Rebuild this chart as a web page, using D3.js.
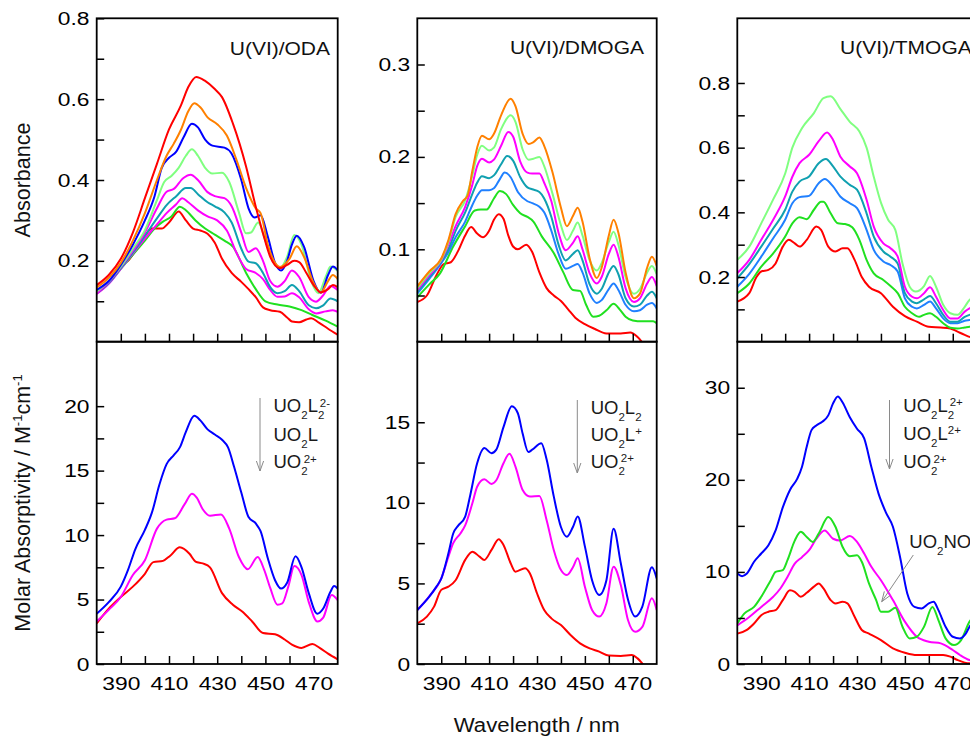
<!DOCTYPE html>
<html><head><meta charset="utf-8">
<script src="https://cdn.jsdelivr.net/npm/d3@7"></script>
<style>
body{margin:0;background:#fff;}
svg{display:block;}
text{font-family:"Liberation Sans",Arial,Helvetica,sans-serif;}
</style>
</head><body>
<svg id="chart" width="970" height="736"></svg>
<script>
// ---------- DATA (wavelength nm, value) ----------
const xTickValues = [390,400,410,420,430,440,450,460,470];
const xTickLabels = [390,410,430,450,470];

// U(VI)/ODA absorbance
const odaAbsRed1 = [[380,0.14],[385,0.165],[390,0.205],[395,0.27],[400,0.355],[405,0.44],[410,0.525],[415,0.585],[418,0.63],[421.3,0.655],[425,0.645],[429,0.625],[432,0.605],[436.5,0.54],[442,0.433],[446,0.334],[449,0.268],[452,0.21],[456,0.182],[459,0.19],[462,0.2],[464,0.197],[467,0.17],[470,0.14],[473,0.122],[476,0.13],[478,0.14],[480,0.135]];
const odaAbsOrange = [[380,0.134],[385,0.158],[390,0.195],[395,0.25],[400,0.318],[405,0.4],[409,0.46],[412,0.49],[415,0.525],[418,0.57],[420.5,0.59],[423,0.58],[426,0.555],[430,0.538],[434,0.51],[438,0.45],[442,0.38],[446,0.33],[448,0.318],[451,0.24],[454,0.195],[456,0.185],[460,0.205],[463,0.236],[466,0.21],[470,0.145],[473,0.122],[476,0.15],[478,0.165],[480,0.155]];
const odaAbsBlue = [[380,0.128],[385,0.15],[390,0.19],[395,0.24],[400,0.3],[404,0.36],[407,0.43],[410,0.455],[413,0.47],[416,0.505],[419.5,0.539],[422,0.53],[425,0.5],[428,0.485],[433,0.48],[436,0.465],[440,0.4],[443,0.33],[445.5,0.307],[448,0.313],[451,0.26],[454,0.195],[456.5,0.176],[459,0.2],[461,0.24],[463,0.262],[466,0.235],[470,0.15],[473,0.121],[476,0.165],[478,0.186],[480,0.177]];
const odaAbsLightGreen = [[380,0.124],[385,0.15],[390,0.186],[395,0.23],[400,0.276],[405,0.35],[408,0.395],[411,0.41],[414,0.43],[417,0.46],[419.5,0.476],[422,0.46],[425,0.43],[428,0.416],[432,0.418],[435,0.395],[439,0.32],[442,0.268],[444,0.27],[447,0.295],[450,0.25],[453,0.2],[456,0.182],[459,0.21],[462,0.264],[465,0.24],[469,0.15],[472,0.12],[475,0.16],[477,0.186],[480,0.175]];
const odaAbsMagenta1 = [[380,0.12],[385,0.148],[390,0.185],[395,0.225],[400,0.27],[405,0.33],[409,0.371],[412,0.378],[416,0.405],[419,0.413],[422,0.4],[426,0.37],[429,0.36],[433,0.355],[436,0.335],[440,0.27],[443,0.222],[446,0.231],[449,0.2],[452,0.15],[455,0.136],[458,0.15],[461,0.176],[464,0.16],[468,0.11],[471,0.099],[474,0.115],[477,0.138],[480,0.128]];
const odaAbsTeal = [[380,0.12],[385,0.145],[390,0.182],[395,0.22],[400,0.262],[405,0.305],[409,0.338],[413,0.36],[417,0.38],[419,0.38],[422,0.365],[426,0.345],[429,0.335],[433,0.32],[436,0.295],[440,0.23],[443,0.198],[446,0.194],[449,0.17],[452,0.135],[455,0.12],[458,0.125],[461,0.14],[464,0.125],[468,0.09],[471,0.083],[474,0.09],[477,0.107],[480,0.1]];
const odaAbsMagenta2 = [[380,0.118],[385,0.143],[390,0.18],[395,0.218],[400,0.255],[405,0.29],[409,0.318],[413,0.34],[415.5,0.355],[418,0.345],[422,0.325],[426,0.31],[430,0.3],[434,0.275],[438,0.22],[442,0.18],[446,0.17],[449,0.155],[452,0.128],[455,0.111],[458,0.112],[461,0.12],[464,0.11],[468,0.08],[471,0.07],[475,0.075],[478,0.078],[480,0.074]];
const odaAbsGreen = [[380,0.122],[385,0.145],[390,0.18],[395,0.215],[400,0.25],[404,0.28],[407.5,0.297],[411,0.31],[414.5,0.334],[417,0.325],[421,0.3],[425,0.28],[429,0.265],[433,0.25],[436.5,0.235],[442,0.17],[446,0.13],[450,0.1],[455,0.092],[460,0.087],[465,0.078],[469.5,0.066],[475,0.052],[480,0.037]];
const odaAbsRed2 = [[380,0.12],[385,0.145],[390,0.19],[393,0.2],[396,0.225],[400,0.262],[403,0.28],[407,0.28],[410,0.295],[414,0.322],[417,0.3],[420,0.28],[423,0.275],[426,0.267],[429,0.245],[432,0.205],[436,0.17],[440,0.148],[443,0.13],[446,0.11],[449,0.085],[452,0.078],[456,0.074],[459,0.06],[461,0.05],[464,0.048],[467,0.055],[469,0.058],[472,0.048],[476,0.032],[480,0.017]];

// U(VI)/ODA molar absorptivity
const odaEpsL2 = [[380,3.9],[385,4.8],[390,6.0],[393,7.3],[396,8.9],[400,10.4],[403,11.8],[406,13.9],[409,15.5],[412,16.2],[414.5,16.8],[417,18.0],[420.5,19.25],[423,18.9],[426,18.2],[429,17.8],[432,17.4],[434.5,16.8],[437,15.3],[440,13.3],[443,11.4],[446,10.9],[448,10.3],[451,8.2],[454,6.5],[456.5,5.85],[459,6.3],[462.5,8.35],[465,7.5],[468,5.5],[471.5,3.9],[474,4.3],[477,5.6],[478.5,6.05],[480,5.85]];
const odaEpsL1 = [[380,3.3],[385,4.2],[390,5.2],[395,6.9],[400,8.05],[405,10.5],[409,11.2],[412.4,11.3],[416.5,12.4],[419.5,13.2],[421.5,12.9],[424,12.0],[427,11.5],[431.6,11.6],[435,10.5],[439,8.3],[442.7,7.35],[446.8,8.3],[449.5,7.3],[452,5.9],[455,4.6],[457,4.7],[459.5,6.0],[462,7.6],[465,6.9],[468,4.8],[471.6,3.3],[474,3.6],[477.5,5.35],[480,4.95]];
const odaEpsFree = [[380,3.15],[385,4.3],[390,5.2],[395,6.0],[400,7.0],[403.5,7.9],[407.5,8.0],[410.5,8.4],[414.5,9.05],[418.5,8.55],[421,7.95],[424,7.8],[427,7.5],[432,5.5],[436.5,4.6],[440.5,4.05],[444.5,3.3],[449,2.4],[454,2.3],[458,1.9],[461,1.5],[465,1.25],[469.5,1.55],[472.5,1.25],[476,0.8],[480,0.36]];

// U(VI)/DMOGA absorbance
const dmAbsOrange = [[380,0.06],[385,0.076],[390,0.09],[393,0.11],[396,0.138],[399,0.152],[401,0.158],[403,0.185],[405,0.21],[407,0.223],[410,0.219],[412,0.225],[415,0.245],[419,0.263],[421,0.255],[424,0.225],[426.5,0.214],[428.5,0.216],[431,0.221],[433,0.212],[436.5,0.183],[440,0.145],[442.5,0.125],[445,0.136],[447,0.145],[449,0.13],[452,0.09],[455,0.069],[457,0.08],[460,0.115],[462,0.132],[464,0.118],[467,0.075],[470.5,0.047],[473,0.052],[476,0.08],[478,0.092],[480,0.082]];
const dmAbsLightGreen = [[380,0.058],[385,0.074],[390,0.089],[393,0.108],[396,0.135],[400,0.153],[403,0.18],[405,0.202],[407,0.212],[410,0.207],[412,0.21],[415,0.23],[419,0.245],[421,0.238],[424,0.208],[426.5,0.197],[428.5,0.198],[431,0.2],[433,0.19],[436.5,0.16],[440,0.126],[442.5,0.11],[445,0.12],[447,0.129],[449,0.115],[452,0.088],[455,0.077],[457,0.085],[460,0.108],[462,0.119],[464,0.105],[467,0.07],[470.5,0.052],[473,0.057],[476,0.075],[478,0.082],[480,0.073]];
const dmAbsMagenta = [[380,0.056],[385,0.072],[390,0.088],[393,0.105],[396,0.125],[400,0.146],[403,0.17],[405,0.19],[407,0.198],[410,0.194],[412,0.197],[415,0.212],[418,0.227],[420,0.222],[423,0.195],[426,0.183],[428,0.182],[431,0.182],[433,0.172],[436,0.152],[439,0.118],[442,0.099],[445,0.107],[447,0.114],[449,0.1],[452,0.074],[455,0.063],[457,0.07],[460,0.095],[462,0.105],[464,0.092],[467,0.058],[470.5,0.043],[473,0.047],[476,0.063],[478,0.07],[480,0.06]];
const dmAbsTeal = [[380,0.054],[385,0.07],[390,0.087],[393,0.1],[396,0.12],[400,0.14],[403,0.16],[405,0.172],[407,0.179],[410,0.177],[412,0.18],[415,0.192],[417.5,0.201],[420,0.196],[423,0.178],[426,0.167],[428,0.165],[431,0.162],[433,0.155],[436,0.135],[439,0.105],[442,0.088],[445,0.095],[447,0.099],[449,0.088],[452,0.062],[455,0.052],[457,0.057],[460,0.075],[462,0.082],[464,0.073],[467,0.047],[470.5,0.038],[473,0.04],[476,0.05],[478,0.054],[480,0.047]];
const dmAbsBlue = [[380,0.052],[385,0.068],[390,0.085],[393,0.097],[396,0.113],[400,0.13],[403,0.148],[405,0.158],[407,0.164],[410,0.164],[412,0.166],[414.5,0.176],[416.5,0.183],[419,0.178],[422,0.162],[426,0.152],[428,0.15],[431,0.146],[433,0.14],[436,0.12],[439,0.095],[442,0.079],[445,0.082],[447,0.084],[449,0.075],[452,0.052],[455,0.042],[457,0.045],[460,0.057],[462,0.063],[464,0.056],[467,0.04],[470.5,0.033],[473,0.034],[476,0.04],[478,0.042],[480,0.036]];
const dmAbsGreen = [[380,0.048],[385,0.062],[389.5,0.074],[395,0.103],[400,0.125],[404,0.142],[406.5,0.143],[409,0.143],[412,0.155],[414.5,0.163],[417,0.16],[420,0.148],[423,0.139],[426,0.135],[428.5,0.13],[432,0.114],[437,0.096],[441,0.075],[445,0.056],[448,0.055],[450.5,0.04],[453.5,0.027],[456,0.028],[459,0.034],[462,0.041],[464.5,0.035],[467,0.027],[470,0.023],[474,0.022],[478.5,0.022],[480,0.02]];
const dmAbsRed = [[380,0.043],[384,0.05],[388,0.072],[391,0.084],[394,0.086],[397,0.098],[400,0.115],[402.5,0.124],[405,0.117],[407.5,0.113],[410,0.12],[412,0.132],[414,0.138],[416,0.133],[418,0.115],[420,0.103],[422,0.1],[425.5,0.105],[428,0.097],[431,0.075],[434,0.058],[437,0.05],[440,0.044],[443,0.035],[446,0.026],[450,0.019],[454,0.014],[459,0.009],[465,0.009],[469,0.01],[472,0.005],[475,-0.004],[480,-0.015]];

// U(VI)/DMOGA molar absorptivity
const dmEpsL2 = [[380,3.35],[385,4.18],[388,4.8],[390,5.3],[393,6.87],[395,8.1],[397,8.57],[400,9.15],[402,10.4],[405,12.46],[408,13.4],[411,13.08],[413,13.3],[416,14.7],[419.5,16.0],[422,15.56],[424,14.3],[426.4,13.15],[428,13.3],[431.8,13.7],[434,12.7],[437,10.4],[440,8.5],[442.5,7.9],[445,8.5],[447,9.15],[450,7.3],[453,5.2],[456,4.28],[459,5.2],[462,8.4],[465,6.25],[468,4.0],[471,2.94],[474,3.56],[478,6.0],[480,5.3]];
const dmEpsL1 = [[380,3.35],[385,4.2],[390,5.3],[393,6.66],[395,7.5],[398,8.1],[400,8.6],[403,9.97],[405,11.0],[408,11.46],[411,11.17],[413,11.4],[416,12.46],[418.5,13.04],[421,12.25],[424,10.8],[427,10.4],[431,10.43],[434,8.94],[437,7.08],[440,5.83],[442.5,5.52],[445,6.0],[447,6.56],[450,4.8],[453,3.35],[456,2.94],[459,3.77],[462,6.04],[465,4.9],[468,2.73],[471,2.0],[474,2.3],[478,4.08],[480,3.35]];
const dmEpsFree = [[380,2.52],[384,2.94],[387,3.56],[390,4.6],[393,4.8],[396,5.2],[400,6.46],[403,6.97],[406,6.66],[408,6.46],[411,7.08],[414,7.74],[416,7.39],[419,6.25],[421,5.73],[425,5.94],[427,5.63],[430,4.39],[433,3.35],[436,2.83],[440,2.42],[444,1.8],[448,1.28],[452,0.97],[456,0.77],[460,0.52],[465,0.5],[469.5,0.56],[472,0.35],[474.5,-0.06],[478,-0.6],[480,-0.9]];

// U(VI)/TMOGA absorbance
const tmAbsLightGreen = [[380,0.253],[385,0.294],[390,0.366],[395,0.44],[400,0.52],[403,0.6],[407,0.66],[412,0.707],[416,0.753],[419,0.759],[423,0.72],[427,0.68],[431,0.65],[434,0.6],[437,0.51],[440,0.43],[443,0.377],[446,0.346],[449,0.242],[452,0.17],[454.5,0.155],[458,0.172],[460.5,0.203],[463,0.17],[466,0.114],[469,0.088],[472,0.083],[475,0.108],[477,0.129],[480,0.14]];
const tmAbsMagenta = [[380,0.212],[385,0.253],[390,0.315],[395,0.377],[400,0.449],[403,0.51],[406,0.552],[410,0.578],[414,0.62],[417.5,0.647],[420,0.624],[423,0.573],[427,0.542],[430,0.521],[434,0.439],[437,0.356],[441,0.304],[444,0.289],[447,0.263],[450,0.17],[453,0.139],[455,0.134],[458,0.15],[460.5,0.168],[463,0.139],[466,0.098],[469,0.072],[472,0.072],[475,0.093],[477,0.103],[480,0.11]];
const tmAbsTeal = [[380,0.196],[385,0.24],[390,0.294],[395,0.35],[400,0.408],[403,0.464],[406,0.495],[410,0.511],[414,0.552],[417,0.565],[420,0.542],[423,0.511],[427,0.485],[430,0.47],[434,0.397],[437,0.325],[441,0.279],[444,0.263],[447,0.242],[450,0.15],[453,0.124],[455,0.119],[458,0.131],[460.5,0.141],[463,0.119],[466,0.083],[469,0.062],[472,0.062],[475,0.077],[477,0.083],[480,0.088]];
const tmAbsBlue = [[380,0.17],[385,0.21],[390,0.263],[395,0.32],[400,0.377],[403,0.428],[406,0.447],[410,0.451],[414,0.49],[416.5,0.503],[420,0.48],[423,0.449],[427,0.428],[430,0.413],[434,0.346],[437,0.284],[441,0.248],[444,0.237],[447,0.217],[450,0.134],[453,0.108],[455,0.103],[458,0.114],[460.5,0.124],[463,0.103],[466,0.072],[469,0.057],[472,0.057],[475,0.065],[477,0.067],[480,0.07]];
const tmAbsGreen = [[380,0.15],[385,0.18],[390,0.232],[395,0.273],[400,0.325],[403,0.366],[406,0.385],[409,0.379],[412,0.408],[415,0.433],[416,0.433],[419,0.397],[422,0.366],[425,0.364],[428,0.354],[431,0.315],[434,0.253],[437,0.211],[441,0.191],[444,0.172],[447,0.15],[450,0.108],[453,0.088],[456,0.077],[458,0.083],[460.5,0.088],[463,0.077],[466,0.057],[469,0.043],[472,0.041],[475,0.044],[477,0.046],[480,0.048]];
const tmAbsRed = [[380,0.124],[385,0.15],[388,0.2],[390,0.217],[393,0.222],[396,0.242],[399,0.294],[401.5,0.315],[404,0.304],[406,0.294],[409,0.315],[413,0.356],[415,0.346],[418,0.294],[421,0.279],[424,0.289],[426,0.289],[429,0.253],[432,0.2],[435,0.17],[440,0.15],[445,0.108],[450,0.079],[455,0.062],[460,0.046],[465,0.044],[469,0.041],[472,0.031],[475,0.021],[477,0.015],[480,0.01]];

// U(VI)/TMOGA molar absorptivity
const tmEpsL2 = [[380,9.83],[382,9.54],[384,9.83],[387,11.1],[390,12.0],[393,12.9],[396,14.5],[399,17.0],[402,18.9],[405,20.1],[407,21.4],[409,23.6],[411,25.4],[413,25.9],[415.5,26.3],[418,27.0],[420,28.3],[422,29.06],[424,28.4],[427,26.8],[430,25.55],[433,24.5],[436,21.4],[439,18.5],[442,16.5],[445,14.9],[448,11.6],[451,7.66],[454,6.2],[457,6.04],[460,6.58],[462,6.76],[464,5.85],[467,4.05],[470,2.96],[473,2.78],[475.5,3.32],[477,4.05],[480,5.0]];
const tmEpsNO3 = [[380,4.4],[383,5.5],[387,6.2],[390,7.3],[394,9.1],[396,10.0],[399,10.2],[401,11.3],[404,13.4],[406.5,14.35],[409,13.8],[411.5,13.26],[414,14.17],[418,15.97],[421,14.9],[424,12.7],[427,11.7],[430,11.8],[432,11.1],[435,8.75],[438,6.94],[440,5.67],[443,5.67],[446,6.1],[449,4.05],[452,2.78],[455,2.96],[458,4.05],[461.5,6.2],[464,4.77],[467,2.78],[470.5,2.06],[473.5,2.6],[477,4.6],[480,5.5]];
const tmEpsL1 = [[380,4.2],[385,5.1],[390,6.2],[395,7.3],[398,8.2],[401,9.47],[404,10.9],[407,11.6],[410,12.36],[413,13.6],[416.5,14.5],[420,13.6],[423,13.4],[427,13.9],[430,13.26],[433,12.0],[436,10.55],[440,9.1],[445,6.94],[450,4.6],[455,2.96],[460,2.42],[465,2.24],[470,1.52],[473,0.98],[477,0.43],[480,0.3]];
const tmEpsFree = [[380,3.3],[384,3.7],[387,4.4],[390,5.3],[393,5.67],[396,5.85],[399,6.94],[402,8.0],[404,7.84],[406.5,7.3],[409,7.73],[412,8.4],[414,8.75],[416,8.2],[419,6.94],[421,6.58],[424,6.76],[426,6.58],[429,5.13],[432,3.7],[435,3.3],[440,2.6],[445,1.7],[450,1.23],[455,0.98],[460,0.98],[466,0.98],[469,0.8],[472,0.43],[475,0.15],[477,0.07],[480,0.05]];

// axis ticks / labels
const odaAbsTicks = [0.1,0.2,0.3,0.4,0.5,0.6,0.7,0.8];
const odaAbsLabels = [0.2,0.4,0.6,0.8];
const dmAbsTicks = [0.05,0.1,0.15,0.2,0.25,0.3];
const dmAbsLabels = [0.1,0.2,0.3];
const tmAbsTicks = [0.1,0.2,0.3,0.4,0.5,0.6,0.7,0.8];
const tmAbsLabels = [0.2,0.4,0.6,0.8];
const odaEpsTicks = [0,2.5,5,7.5,10,12.5,15,17.5,20];
const odaEpsLabels = [0,5,10,15,20];
const dmEpsTicks = [0,2.5,5,7.5,10,12.5,15];
const dmEpsLabels = [0,5,10,15];
const tmEpsTicks = [0,5,10,15,20,25,30];
const tmEpsLabels = [0,10,20,30];

// ---------- STYLE ----------
const C = {red:"#ff0000", orange:"#ff8000", blue:"#0000ff", lgreen:"#80ff80", magenta:"#ff00ff",
           teal:"#10a0b0", green:"#20e020", dblue:"#2080ff"};
const FONT = '"Liberation Sans",Arial,Helvetica,sans-serif';

const svg = d3.select("#chart");
const colX = [[96.7,337.7],[417.3,656.7],[737.3,976.7]];
const rowY = [[18.3,341.7],[341.7,664]];

const panels = [
  {id:"p1a", col:0, row:0, dom:[0,0.8], ticks:odaAbsTicks, labels:odaAbsLabels, xl:false,
   series:[[odaAbsRed2,C.red],[odaAbsGreen,C.green],[odaAbsMagenta2,C.magenta],[odaAbsTeal,C.teal],[odaAbsMagenta1,C.magenta],[odaAbsLightGreen,C.lgreen],[odaAbsBlue,C.blue],[odaAbsOrange,C.orange],[odaAbsRed1,C.red]]},
  {id:"p1b", col:0, row:1, dom:[0,25], ticks:odaEpsTicks, labels:odaEpsLabels, xl:true,
   series:[[odaEpsFree,C.red],[odaEpsL1,C.magenta],[odaEpsL2,C.blue]]},
  {id:"p2a", col:1, row:0, dom:[0,0.35], ticks:dmAbsTicks, labels:dmAbsLabels, xl:false,
   series:[[dmAbsRed,C.red],[dmAbsGreen,C.green],[dmAbsBlue,C.dblue],[dmAbsTeal,C.teal],[dmAbsMagenta,C.magenta],[dmAbsLightGreen,C.lgreen],[dmAbsOrange,C.orange]]},
  {id:"p2b", col:1, row:1, dom:[0,20], ticks:dmEpsTicks, labels:dmEpsLabels, xl:true,
   series:[[dmEpsFree,C.red],[dmEpsL1,C.magenta],[dmEpsL2,C.blue]]},
  {id:"p3a", col:2, row:0, dom:[0,1.0], ticks:tmAbsTicks, labels:tmAbsLabels, xl:false,
   series:[[tmAbsRed,C.red],[tmAbsGreen,C.green],[tmAbsBlue,C.dblue],[tmAbsTeal,C.teal],[tmAbsMagenta,C.magenta],[tmAbsLightGreen,C.lgreen]]},
  {id:"p3b", col:2, row:1, dom:[0,35], ticks:tmEpsTicks, labels:tmEpsLabels, xl:true,
   series:[[tmEpsFree,C.red],[tmEpsL1,C.magenta],[tmEpsNO3,C.green],[tmEpsL2,C.blue]]}
];

const defs = svg.append("defs");

panels.forEach(p => {
  const [x0,x1] = colX[p.col];
  const [yt,yb] = rowY[p.row];
  const x = d3.scaleLinear().domain([380,480]).range([x0,x1]);
  const y = d3.scaleLinear().domain(p.dom).range([yb,yt]);
  defs.append("clipPath").attr("id","clip-"+p.id).append("rect")
    .attr("x",x0).attr("y",yt).attr("width",x1-x0).attr("height",yb-yt);
  const line = d3.line().x(d=>x(d[0])).y(d=>y(d[1])).curve(d3.curveMonotoneX);
  const g = svg.append("g");
  const cg = g.append("g").attr("clip-path","url(#clip-"+p.id+")");
  p.series.forEach(([data,col]) => {
    cg.append("path").attr("d",line(data)).attr("fill","none")
      .attr("stroke",col).attr("stroke-width",2).attr("stroke-linejoin","round");
  });
  // y axis
  const ya = d3.axisLeft(y).tickValues(p.ticks).tickSizeInner(-7.5).tickSizeOuter(0).tickPadding(6)
    .tickFormat(v => p.labels.includes(v) ? String(v) : "");
  const yg = g.append("g").attr("transform",`translate(${x0},0)`).call(ya);
  yg.select(".domain").remove();
  yg.selectAll("line").attr("stroke","#000").attr("stroke-width",1.5);
  yg.selectAll("text").attr("transform","scale(1.2,1)").attr("fill","#000")
    .style("font-family",FONT).style("font-size","19px");
  // x axis
  const xa = d3.axisBottom(x).tickValues(xTickValues).tickSizeInner(-8).tickSizeOuter(0).tickPadding(12.5)
    .tickFormat(v => (p.xl && xTickLabels.includes(v)) ? String(v) : "");
  const xg = g.append("g").attr("transform",`translate(0,${yb})`).call(xa);
  xg.select(".domain").remove();
  xg.selectAll("line").attr("stroke","#000").attr("stroke-width",1.5);
  xg.selectAll("text").attr("transform","scale(1.2,1)").attr("fill","#000")
    .style("font-family",FONT).style("font-size","19px");
  // frame
  g.append("rect").attr("x",x0).attr("y",yt).attr("width",x1-x0).attr("height",yb-yt)
    .attr("fill","none").attr("stroke","#000").attr("stroke-width",1.8);
});

// ---------- TITLES ----------
function stretchedText(x, y, txt, size, sx, anchor) {
  svg.append("g").attr("transform",`translate(${x},${y}) scale(${sx},1)`)
    .append("text").attr("x",0).attr("y",0).attr("text-anchor",anchor)
    .style("font-family",FONT).style("font-size",size+"px").attr("fill","#111").text(txt);
}
stretchedText(330, 54.5, "U(VI)/ODA", 17.5, 1.2, "end");
stretchedText(644, 53.5, "U(VI)/DMOGA", 17.5, 1.2, "end");
stretchedText(840, 54, "U(VI)/TMOGA", 17.5, 1.2, "start");
stretchedText(536.7, 731.5, "Wavelength / nm", 21, 1.06, "middle");

// rotated axis titles
svg.append("text").attr("transform","translate(29.5,180) rotate(-90)").attr("text-anchor","middle")
  .style("font-family",FONT).style("font-size","21.5px").attr("fill","#111").text("Absorbance");
{
  const t = svg.append("text").attr("transform","translate(29.5,503) rotate(-90)").attr("text-anchor","middle")
    .style("font-family",FONT).style("font-size","21.5px").attr("fill","#111");
  t.append("tspan").text("Molar Absorptivity / M");
  t.append("tspan").text("-1").style("font-size","13px").attr("dy",-8);
  t.append("tspan").text("cm").attr("dy",8);
  t.append("tspan").text("-1").style("font-size","13px").attr("dy",-8);
}

// ---------- ANNOTATIONS ----------
function chem(x, y, parts) {
  const t = svg.append("text").attr("x",x).attr("y",y).style("font-family",FONT)
    .style("font-size","18.5px").attr("fill","#1a1a1a");
  let cur = 0;
  parts.forEach(([s,k,dx]) => {
    const target = k==="b" ? 7 : k==="p" ? -5.6 : 0;
    const ts = t.append("tspan").text(s).attr("dy",target-cur)
      .style("font-size",(k==="n"?18.5:11.5)+"px");
    if (dx) ts.attr("dx",dx);
    cur = target;
  });
}
function arrow(x1,y1,x2,y2) {
  const g = svg.append("g").attr("stroke","#8a8a8a").attr("stroke-width",1).attr("fill","none");
  g.append("line").attr("x1",x1).attr("y1",y1).attr("x2",x2).attr("y2",y2);
  const a = Math.atan2(y2-y1,x2-x1), L = 10, W = 3.6;
  const bx = x2 - L*Math.cos(a), by = y2 - L*Math.sin(a);
  const nx = -Math.sin(a)*W, ny = Math.cos(a)*W;
  g.append("path").attr("d",`M${bx+nx},${by+ny}L${x2},${y2}L${bx-nx},${by-ny}`);
}

// panel 1
arrow(260,398,260,471);
chem(273.5,412.3,[["UO","n"],["2","b"],["L","n"],["2","b"],["2-","p",-4.5]]);
chem(273.5,440.5,[["UO","n"],["2","b"],["L","n"]]);
chem(273.5,468.3,[["UO","n"],["2","b"],["2+","p",-4]]);
// panel 2
arrow(577.3,400,577.3,473);
chem(590.7,413.5,[["UO","n"],["2","b"],["L","n"],["2","b"]]);
chem(590.7,440.5,[["UO","n"],["2","b"],["L","n"],["+","p"]]);
chem(590.7,467.5,[["UO","n"],["2","b"],["2+","p",-4]]);
// panel 3
arrow(889.5,400,889.5,469);
chem(903.3,411.7,[["UO","n"],["2","b"],["L","n"],["2","b"],["2+","p",-4.5]]);
chem(903.3,440,[["UO","n"],["2","b"],["L","n"],["2+","p"]]);
chem(903.3,468.3,[["UO","n"],["2","b"],["2+","p",-4]]);
chem(909.3,548.3,[["UO","n"],["2","b"],["NO","n"],["3","b"],["+","p",-4]]);
arrow(913.3,555,881.7,601.7);
</script>
</body></html>
